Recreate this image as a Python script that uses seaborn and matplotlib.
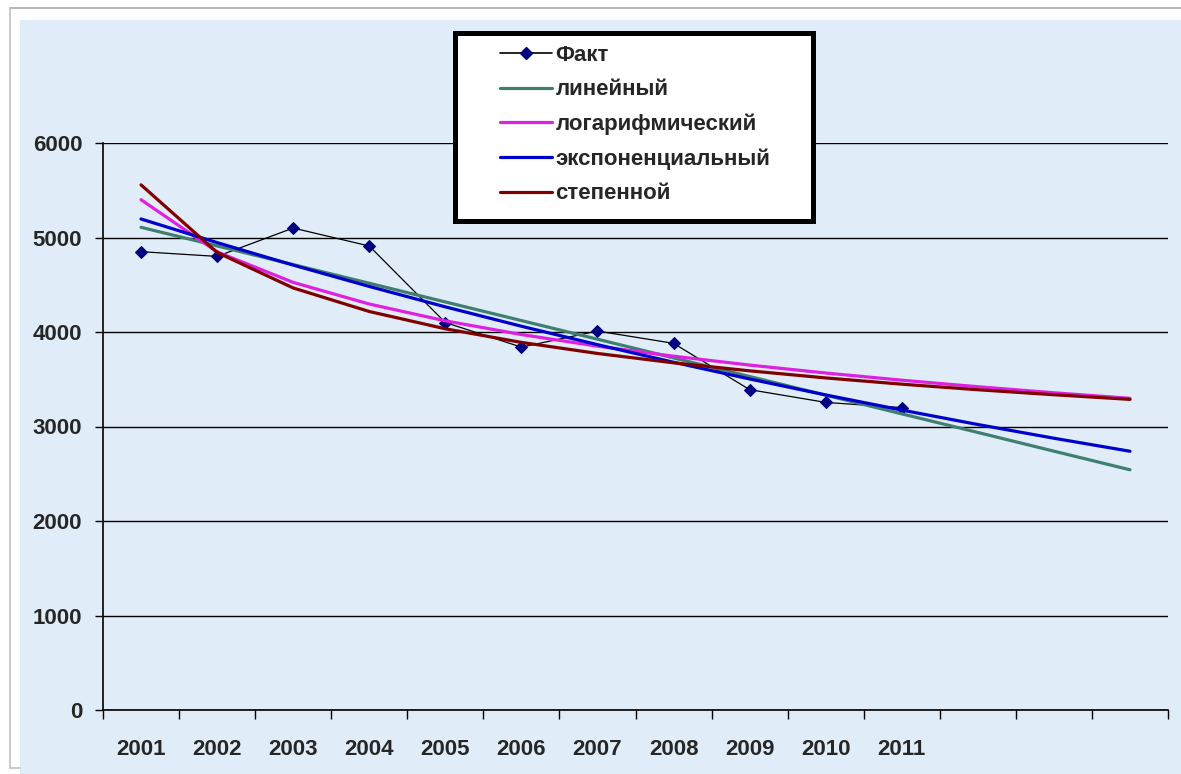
import numpy as np
import pandas as pd
import matplotlib
matplotlib.use("Agg")
import matplotlib.pyplot as plt
from matplotlib.patches import Rectangle
from matplotlib.lines import Line2D
import seaborn as sns

# categories (last three slots have no label, trend lines run into them)
years = ["2001", "2002", "2003", "2004", "2005", "2006", "2007", "2008",
         "2009", "2010", "2011", "", "", ""]

fact = [4850, 4800, 5100, 4910, 4100, 3840, 4010, 3880, 3390, 3255, 3200]

linear = [5108, 4911, 4713, 4516, 4318, 4121, 3924, 3726, 3529, 3332, 3134,
          2937, 2739, 2542]
log_trend = [5400, 4848, 4525, 4296, 4118, 3973, 3850, 3744, 3650, 3566,
             3490, 3421, 3357, 3298]
exp_trend = [5196, 4946, 4708, 4482, 4266, 4061, 3866, 3680, 3503, 3334,
             3174, 3021, 2876, 2738]
power_trend = [5557, 4842, 4466, 4217, 4034, 3890, 3773, 3674, 3589, 3514,
               3448, 3389, 3336, 3287]

names = ["Факт", "линейный", "логарифмический", "экспоненциальный",
         "степенной"]

# colours
c_fact_line = "#000000"
c_fact_marker = "#000080"
c_linear = "#3F7F70"
c_log = "#E020E0"
c_exp = "#0000CC"
c_power = "#800000"
bg_blue = "#E0ECF7"

sns.set_style("white")
plt.rcParams["font.family"] = ["Liberation Sans", "DejaVu Sans"]
plt.rcParams["font.weight"] = "bold"

W, H = 1181, 774
fig = plt.figure(figsize=(W / 100, H / 100), dpi=100, facecolor="white")


def fx(px):
    return px / W


def fy(py):
    return 1 - py / H


# window-like background: white margin + grey edge + light blue fill
fig.patches.append(Rectangle((fx(20), 0), 1 - fx(20), fy(20), transform=fig.transFigure,
                             facecolor=bg_blue, edgecolor="none", zorder=-10))
fig.lines.append(Line2D([fx(10), 1], [fy(8), fy(8)], transform=fig.transFigure,
                        color="#A8A8A8", lw=1.2, zorder=-5))
fig.lines.append(Line2D([fx(10), fx(10)], [fy(8), fy(768)], transform=fig.transFigure,
                        color="#C0C0C0", lw=1.2, zorder=-5))
fig.lines.append(Line2D([fx(10), fx(20)], [fy(768), fy(768)], transform=fig.transFigure,
                        color="#C0C0C0", lw=1.2, zorder=-5))

ax = fig.add_axes([fx(103), fy(710), fx(1168) - fx(103), fy(143) - fy(710)])
ax.set_facecolor("none")

pos_all = np.arange(len(years))
pos_fact = np.arange(len(fact))

sns.lineplot(x=pos_fact, y=fact, ax=ax, color=c_fact_line, lw=0.9,
             marker="D", markersize=6.5, markerfacecolor=c_fact_marker,
             markeredgecolor=c_fact_marker, sort=False, zorder=3)
trend_series = [(linear, c_linear), (log_trend, c_log),
                (exp_trend, c_exp), (power_trend, c_power)]
for vals, col in trend_series:
    sns.lineplot(x=pos_all, y=vals, ax=ax, color=col, lw=2.3, sort=False,
                 zorder=4)

ax.set_xlim(-0.5, len(years) - 0.5)
ax.set_ylim(0, 6000)
ax.set_xlabel("")
ax.set_ylabel("")

ax.set_yticks(range(0, 6001, 1000))
ax.yaxis.grid(True, color="black", lw=1.0)
ax.set_axisbelow(True)
ax.tick_params(axis="y", length=6, width=1, color="black", direction="out",
               pad=9, labelsize=16, left=True)

ax.set_xticks(pos_all)
ax.set_xticklabels(years)
ax.set_xticks(np.arange(-0.5, len(years)), minor=True)
ax.tick_params(axis="x", which="major", length=0, pad=21, labelsize=16)
ax.tick_params(axis="x", which="minor", length=6.5, width=1, color="black",
               direction="out", bottom=True)
for lab in ax.get_xticklabels() + ax.get_yticklabels():
    lab.set_fontweight("bold")

for side in ["top", "right"]:
    ax.spines[side].set_visible(False)
for side in ["left", "bottom"]:
    ax.spines[side].set_color("black")
    ax.spines[side].set_linewidth(1.2)

# legend box (drawn as its own frame, Excel style)
fig.patches.append(Rectangle((fx(454.5), fy(220.5)), fx(812.5) - fx(454.5),
                             fy(33.5) - fy(220.5), transform=fig.transFigure,
                             facecolor="white", edgecolor="black", lw=3.6,
                             zorder=2))
handles = [Line2D([], [], color=c_fact_line, lw=1.2, marker="D", markersize=6,
                  markerfacecolor=c_fact_marker, markeredgecolor=c_fact_marker)]
handles += [Line2D([], [], color=col, lw=2.3) for _, col in trend_series]
leg = fig.legend(handles, names, loc="upper left",
                 bbox_to_anchor=(fx(500), fy(45)), frameon=False,
                 prop={"size": 16, "weight": "bold"}, handlelength=2.35,
                 handletextpad=0.15, labelspacing=0.6, borderpad=0,
                 borderaxespad=0, numpoints=1)
leg.set_zorder(5)

fig.savefig("out.png", dpi=100)
